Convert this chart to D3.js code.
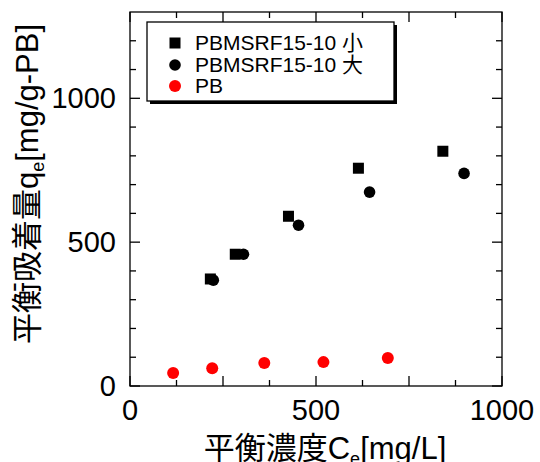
<!DOCTYPE html>
<html>
<head>
<meta charset="utf-8">
<script src="https://cdn.jsdelivr.net/npm/d3@7"></script>
<style>
  body { margin: 0; background: #fff; }
  text { font-family: "Liberation Sans", Arial, "Noto Sans CJK JP", sans-serif; }
</style>
</head>
<body>
<svg id="chart" width="540" height="462"></svg>
<script>
// PBMSRF15-10 small particles (squares)
var smallCe = [216, 283, 426, 614, 841];
var smallQe = [372, 458, 590, 757, 816];
// PBMSRF15-10 large particles (black circles)
var largeCe = [224, 305, 453, 644, 898];
var largeQe = [368, 458, 559, 674, 739];
// PB (red circles)
var pbCe = [116, 221, 361, 520, 693];
var pbQe = [45, 62, 80, 83, 97];

var xLabels = [0, 500, 1000];
var yLabels = [0, 500, 1000];
var legendNames = ["PBMSRF15-10 小", "PBMSRF15-10 大", "PB"];

var svg = d3.select("#chart");
// plot frame (note: "top" is reserved on window, so p* names)
var pLeft = 130, pRight = 502, pTop = 12, pBottom = 386;

var x = d3.scaleLinear().domain([0, 1000]).range([pLeft, pRight]);
var y = d3.scaleLinear().domain([0, 1300]).range([pBottom, pTop]);

var g = svg.append("g");

// ticks (inward) on all four sides
var xMajor = d3.range(0, 1001, 250), xMinor = d3.range(125, 1000, 250);
var yMajor = d3.range(0, 1301, 500), yMinor = d3.range(100, 1300, 100).filter(function(v){ return v % 500 != 0; });

function xTicks(vals, len){
    g.selectAll(null).data(vals).enter().append("line")
	.attr("x1", function(d){ return x(d); }).attr("x2", function(d){ return x(d); })
	.attr("y1", pBottom).attr("y2", pBottom - len)
	.attr("stroke", "#000").attr("stroke-width", 1.3);
    g.selectAll(null).data(vals).enter().append("line")
	.attr("x1", function(d){ return x(d); }).attr("x2", function(d){ return x(d); })
	.attr("y1", pTop).attr("y2", pTop + len)
	.attr("stroke", "#000").attr("stroke-width", 1.3);
}
function yTicks(vals, len){
    g.selectAll(null).data(vals).enter().append("line")
	.attr("y1", function(d){ return y(d); }).attr("y2", function(d){ return y(d); })
	.attr("x1", pLeft).attr("x2", pLeft + len)
	.attr("stroke", "#000").attr("stroke-width", 1.3);
    g.selectAll(null).data(vals).enter().append("line")
	.attr("y1", function(d){ return y(d); }).attr("y2", function(d){ return y(d); })
	.attr("x1", pRight).attr("x2", pRight - len)
	.attr("stroke", "#000").attr("stroke-width", 1.3);
}
xTicks(xMajor, 10); xTicks(xMinor, 6);
yTicks(yMajor, 10); yTicks(yMinor, 6);

g.append("rect")
    .attr("x", pLeft).attr("y", pTop)
    .attr("width", pRight - pLeft).attr("height", pBottom - pTop)
    .attr("fill", "none").attr("stroke", "#000").attr("stroke-width", 1.3);

// tick labels
g.selectAll(null).data(xLabels).enter().append("text")
    .attr("x", function(d){ return x(d); }).attr("y", 420)
    .attr("text-anchor", "middle").attr("font-size", 29)
    .text(function(d){ return d; });
g.selectAll(null).data(yLabels).enter().append("text")
    .attr("x", pLeft - 14).attr("y", function(d){ return y(d) + 10; })
    .attr("text-anchor", "end").attr("font-size", 29)
    .text(function(d){ return d; });

// axis titles
var xt = svg.append("text").attr("x", 325).attr("y", 459)
    .attr("text-anchor", "middle").attr("font-size", 31);
xt.append("tspan").text("平衡濃度C");
xt.append("tspan").attr("font-size", 18).attr("dy", 6).text("e");
xt.append("tspan").attr("dy", -6).text("[mg/L]");

var yt = svg.append("text")
    .attr("transform", "translate(38,184) rotate(-90)")
    .attr("text-anchor", "middle").attr("font-size", 31);
yt.append("tspan").text("平衡吸着量q");
yt.append("tspan").attr("font-size", 18).attr("dy", 6).text("e");
yt.append("tspan").attr("dy", -6).text("[mg/g-PB]");

// data
var sq = 11;
g.selectAll(null).data(d3.zip(smallCe, smallQe)).enter().append("rect")
    .attr("x", function(d){ return x(d[0]) - sq/2; })
    .attr("y", function(d){ return y(d[1]) - sq/2; })
    .attr("width", sq).attr("height", sq).attr("fill", "#000");
g.selectAll(null).data(d3.zip(largeCe, largeQe)).enter().append("circle")
    .attr("cx", function(d){ return x(d[0]); })
    .attr("cy", function(d){ return y(d[1]); })
    .attr("r", 5.8).attr("fill", "#000");
g.selectAll(null).data(d3.zip(pbCe, pbQe)).enter().append("circle")
    .attr("cx", function(d){ return x(d[0]); })
    .attr("cy", function(d){ return y(d[1]); })
    .attr("r", 6).attr("fill", "#ff0000");

// legend
var lg = svg.append("g");
lg.append("rect").attr("x", 150).attr("y", 25).attr("width", 247).attr("height", 79).attr("fill", "#000");
lg.append("rect").attr("x", 147).attr("y", 22).attr("width", 247).attr("height", 79)
    .attr("fill", "#fff").attr("stroke", "#000").attr("stroke-width", 1.3);
var rows = [43, 65, 86];
lg.append("rect").attr("x", 175 - sq/2).attr("y", rows[0] - sq/2).attr("width", sq).attr("height", sq).attr("fill", "#000");
lg.append("circle").attr("cx", 175).attr("cy", rows[1]).attr("r", 5.8).attr("fill", "#000");
lg.append("circle").attr("cx", 175).attr("cy", rows[2]).attr("r", 6).attr("fill", "#ff0000");
lg.selectAll(null).data(legendNames).enter().append("text")
    .attr("x", 195).attr("y", function(d, i){ return rows[i] + 7; })
    .attr("font-size", 21)
    .text(function(d){ return d; });
</script>
</body>
</html>
